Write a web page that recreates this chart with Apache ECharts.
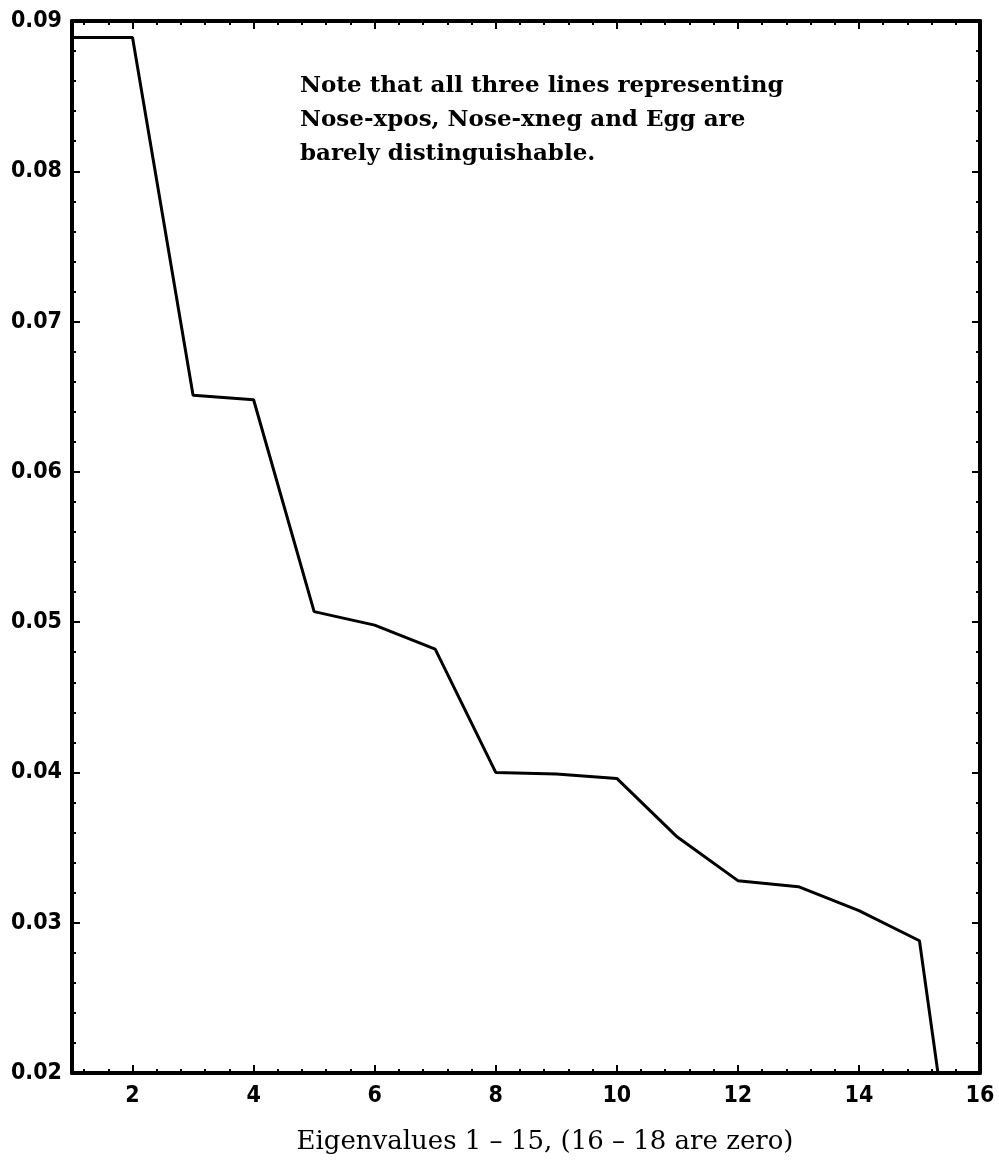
<!DOCTYPE html>
<html>
<head>
<meta charset="utf-8">
<script src="https://cdn.jsdelivr.net/npm/echarts@6/dist/echarts.min.js"></script>
<style>html,body{margin:0;padding:0;background:#fff;}#chart{width:999px;height:1160px;}</style>
</head>
<body>
<div id="chart"></div>
<script>
// Data
const eigenIndex = [1, 2, 3, 4, 5, 6, 7, 8, 9, 10, 11, 12, 13, 14, 15, 16];
const eigenValues = [0.0889, 0.0889, 0.0651, 0.0648, 0.0507, 0.0498, 0.0482, 0.0400, 0.0399, 0.0396, 0.0357, 0.0328, 0.0324, 0.0308, 0.0288, 0.0];
const xMajorTicks = [2, 4, 6, 8, 10, 12, 14, 16];
const xMinorTicks = [1.2, 1.6, 2.4, 2.8, 3.2, 3.6, 4.4, 4.8, 5.2, 5.6, 6.4, 6.8, 7.2, 7.6, 8.4, 8.8, 9.2, 9.6, 10.4, 10.8, 11.2, 11.6, 12.4, 12.8, 13.2, 13.6, 14.4, 14.8, 15.2, 15.6];
const xAxisTitle = 'Eigenvalues 1 \u2013 15, (16 \u2013 18 are zero)';
const noteLines = ['Note that all three lines representing', 'Nose-xpos, Nose-xneg and Egg are', 'barely distinguishable.'];

const seriesData = eigenIndex.map((x, i) => [x, eigenValues[i]]);
const tickFont = {fontFamily: 'DejaVu Sans Condensed, DejaVu Sans, sans-serif', fontWeight: 'bold', fontSize: 23, color: '#000'};
const axisLineStyle = {show: true, lineStyle: {color: '#000', width: 4}};

function xAx(position, ticks, len, labels, lineShow, name) {
  const a = {
    type: 'value', min: 1, max: 16, position: position,
    axisLine: lineShow ? axisLineStyle : {show: false},
    axisTick: {show: true, inside: true, length: len, customValues: ticks, lineStyle: {color: '#000', width: 2}},
    axisLabel: labels ? Object.assign({show: true, margin: 12, customValues: ticks}, tickFont) : {show: false},
    splitLine: {show: false}
  };
  if (name) {
    a.name = name;
    a.nameLocation = 'middle';
    a.nameGap = 56;
    a.nameTextStyle = {fontFamily: 'DejaVu Serif, Liberation Serif, serif', fontSize: 26, color: '#000', padding: [0, 0, 0, 38]};
  }
  return a;
}
function yAx(position, labels) {
  return {
    type: 'value', min: 0.02, max: 0.09, interval: 0.01, position: position,
    axisLine: axisLineStyle,
    axisTick: {show: true, inside: true, length: 8, lineStyle: {color: '#000', width: 2}},
    minorTick: {show: true, splitNumber: 5, length: 4, lineStyle: {color: '#000', width: 2}},
    axisLabel: labels ? Object.assign({show: true, margin: 10, formatter: v => v.toFixed(2)}, tickFont) : {show: false},
    splitLine: {show: false}, minorSplitLine: {show: false}
  };
}

const chart = echarts.init(document.getElementById('chart'), null, {renderer: 'canvas'});
chart.setOption({
  backgroundColor: '#fff',
  animation: false,
  title: {
    text: noteLines.join('\n'),
    left: 300, top: 69, padding: 0,
    textStyle: {fontFamily: 'DejaVu Serif, Liberation Serif, serif', fontWeight: 'bold', fontSize: 23, lineHeight: 34, color: '#000'}
  },
  grid: {left: 72, right: 19, top: 21, bottom: 85, containLabel: false},
  xAxis: [
    xAx('bottom', xMajorTicks, 8, true, true, xAxisTitle),
    xAx('bottom', xMinorTicks, 4, false, false),
    xAx('top', xMajorTicks, 8, false, true),
    xAx('top', xMinorTicks, 4, false, false)
  ],
  yAxis: [yAx('left', true), yAx('right', false)],
  series: [{
    type: 'line', xAxisIndex: 0, yAxisIndex: 0,
    data: seriesData, showSymbol: false, clip: true,
    lineStyle: {color: '#000', width: 3}
  }]
});
</script>
</body>
</html>
